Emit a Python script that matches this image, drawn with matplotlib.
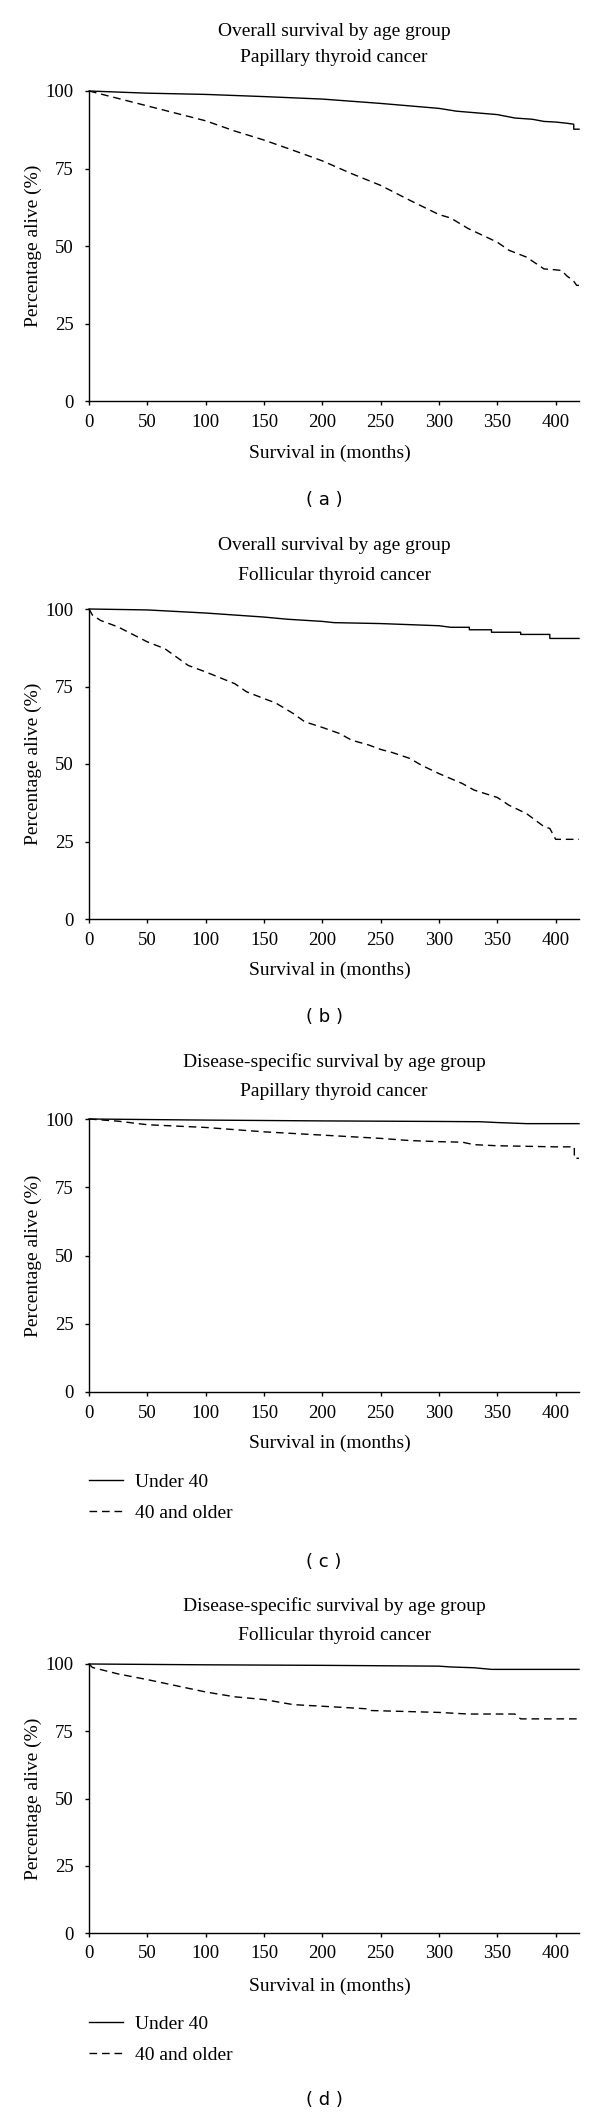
import matplotlib
matplotlib.use("Agg")
import matplotlib.pyplot as plt

# survival curves: months, percentage alive
pap_os_young_t = [0, 50, 100, 150, 200, 250, 300, 315, 350, 365, 380, 390, 400, 410, 415.5, 415.5, 420]
pap_os_young_s = [100, 99.3, 98.9, 98.2, 97.4, 96.0, 94.4, 93.5, 92.4, 91.3, 90.9, 90.2, 90.0, 89.6, 89.3, 87.7, 87.7]
pap_os_old_t = [0, 25, 50, 75, 100, 125, 150, 175, 200, 225, 250, 275, 300, 310, 325, 350, 360, 375,
                390, 400, 405, 410, 415, 418, 420]
pap_os_old_s = [100, 97.6, 95.2, 92.8, 90.4, 87.1, 84.2, 80.9, 77.5, 73.4, 69.6, 64.8, 60.2, 59.1, 55.7,
                51.3, 48.7, 46.5, 42.7, 42.4, 42.2, 40.3, 39.0, 37.4, 37.4]

fol_os_young_t = [0, 50, 100, 150, 170, 200, 210, 250, 300, 310, 326, 326, 345, 345, 370, 370, 395, 395, 420]
fol_os_young_s = [100, 99.7, 98.7, 97.4, 96.7, 96.0, 95.6, 95.3, 94.6, 94.1, 94.1, 93.3, 93.3, 92.5, 92.5,
                  91.8, 91.8, 90.5, 90.5]
fol_os_old_t = [0, 3, 10, 25, 50, 65, 75, 85, 100, 125, 135, 150, 160, 175, 185, 200, 215, 225, 240, 250,
                260, 275, 285, 300, 310, 320, 330, 350, 360, 375, 390, 395, 400, 420]
fol_os_old_s = [100, 98, 96.3, 94.2, 89.4, 87.2, 84.5, 81.8, 79.7, 75.9, 73.3, 71.1, 69.7, 66.3, 63.6, 61.8,
                59.8, 57.7, 56.1, 54.7, 53.7, 51.8, 49.6, 46.9, 45.3, 43.7, 41.6, 39.2, 36.7, 34.0, 29.8,
                29.2, 25.7, 25.7]

pap_ds_young_t = [0, 100, 200, 300, 335, 350, 375, 420]
pap_ds_young_s = [100, 99.6, 99.3, 99.1, 99.0, 98.7, 98.3, 98.3]
pap_ds_old_t = [0, 25, 50, 100, 125, 150, 200, 250, 275, 300, 320, 330, 350, 400, 416, 416, 420]
pap_ds_old_s = [100, 99.2, 97.9, 96.9, 96.1, 95.3, 94.1, 92.9, 92.1, 91.7, 91.5, 90.6, 90.2, 89.8, 89.8,
                85.6, 85.6]

fol_ds_young_t = [0, 100, 200, 300, 310, 330, 345, 420]
fol_ds_young_s = [100, 99.7, 99.5, 99.2, 98.9, 98.6, 98.0, 98.0]
fol_ds_old_t = [0, 3, 25, 50, 75, 100, 125, 150, 175, 200, 240, 242, 300, 325, 365, 370, 420]
fol_ds_old_s = [100, 98.7, 96.3, 94.2, 91.9, 89.6, 87.8, 86.8, 84.9, 84.3, 83.3, 82.7, 82.0, 81.4, 81.4,
                79.6, 79.6]

titles = [
    ("Overall survival by age group", "Papillary thyroid cancer"),
    ("Overall survival by age group", "Follicular thyroid cancer"),
    ("Disease-specific survival by age group", "Papillary thyroid cancer"),
    ("Disease-specific survival by age group", "Follicular thyroid cancer"),
]
panel_letters = ["( a )", "( b )", "( c )", "( d )"]
group_labels = ["Under 40", "40 and older"]
x_ticks = [0, 50, 100, 150, 200, 250, 300, 350, 400]
y_ticks = [0, 25, 50, 75, 100]

curves = [
    (pap_os_young_t, pap_os_young_s, pap_os_old_t, pap_os_old_s),
    (fol_os_young_t, fol_os_young_s, fol_os_old_t, fol_os_old_s),
    (pap_ds_young_t, pap_ds_young_s, pap_ds_old_t, pap_ds_old_s),
    (fol_ds_young_t, fol_ds_young_s, fol_ds_old_t, fol_ds_old_s),
]

W, H = 600, 2114
SERIF = "Liberation Serif"


def fx(px):
    return px / W


def fy(py):
    return 1 - py / H


# pixel layout: axes top/bottom, title lines, xlabel, legend, letter
layout = [
    dict(top=91, bottom=401.5, t1=32, t2=58, xlab=453, leg=None, letter=500),
    dict(top=609, bottom=919, t1=546, t2=575, xlab=970, leg=None, letter=1017),
    dict(top=1119, bottom=1392, t1=1062, t2=1092, xlab=1443, leg=1473, letter=1562),
    dict(top=1664, bottom=1933, t1=1606, t2=1635, xlab=1986, leg=2015, letter=2100),
]
LEFT, RIGHT = 89, 579

fig = plt.figure(figsize=(W / 100, H / 100), dpi=100)
fig.patch.set_facecolor("white")

for i, lay in enumerate(layout):
    ax = fig.add_axes([fx(LEFT), fy(lay["bottom"]), fx(RIGHT - LEFT), (lay["bottom"] - lay["top"]) / H])
    yt, ys, ot, os_ = curves[i]
    ax.plot(yt, ys, color="black", lw=1.0, clip_on=False, label=group_labels[0])
    ax.plot(ot, os_, color="black", lw=1.0, dashes=(5.5, 3.5), clip_on=False, label=group_labels[1])

    ax.set_xlim(0, 420)
    ax.set_ylim(0, 100)
    ax.set_xticks(x_ticks)
    ax.set_yticks(y_ticks)
    for side in ["top", "right"]:
        ax.spines[side].set_visible(False)
    for side in ["left", "bottom"]:
        ax.spines[side].set_linewidth(1.0)
    ax.tick_params(axis="both", direction="out", length=3, width=1.0, labelsize=13.5)
    ax.tick_params(axis="x", pad=6)
    ax.tick_params(axis="y", pad=8)
    for lbl in ax.get_xticklabels() + ax.get_yticklabels():
        lbl.set_fontfamily(SERIF)

    cx = (LEFT + RIGHT) / 2
    fig.text(fx(cx), fy(lay["t1"]), titles[i][0], ha="center", va="center", fontsize=14, family=SERIF)
    fig.text(fx(cx), fy(lay["t2"]), titles[i][1], ha="center", va="center", fontsize=14, family=SERIF)
    fig.text(fx(cx - 4), fy(lay["xlab"]), "Survival in (months)", ha="center", va="center",
             fontsize=14, family=SERIF)
    fig.text(fx(33), fy((lay["top"] + lay["bottom"]) / 2), "Percentage alive (%)", ha="center",
             va="center", rotation=90, fontsize=14, family=SERIF)
    fig.text(fx(324), fy(lay["letter"]), panel_letters[i], ha="center", va="center", fontsize=13,
             family="DejaVu Sans")

    if lay["leg"] is not None:
        leg = ax.legend(loc="upper left", bbox_to_anchor=(fx(LEFT), fy(lay["leg"])),
                        bbox_transform=fig.transFigure, frameon=False, borderpad=0, borderaxespad=0,
                        handlelength=1.75, handletextpad=0.6, labelspacing=0.7,
                        prop={"family": SERIF, "size": 14})

fig.savefig("out.png", dpi=100, facecolor="white")
